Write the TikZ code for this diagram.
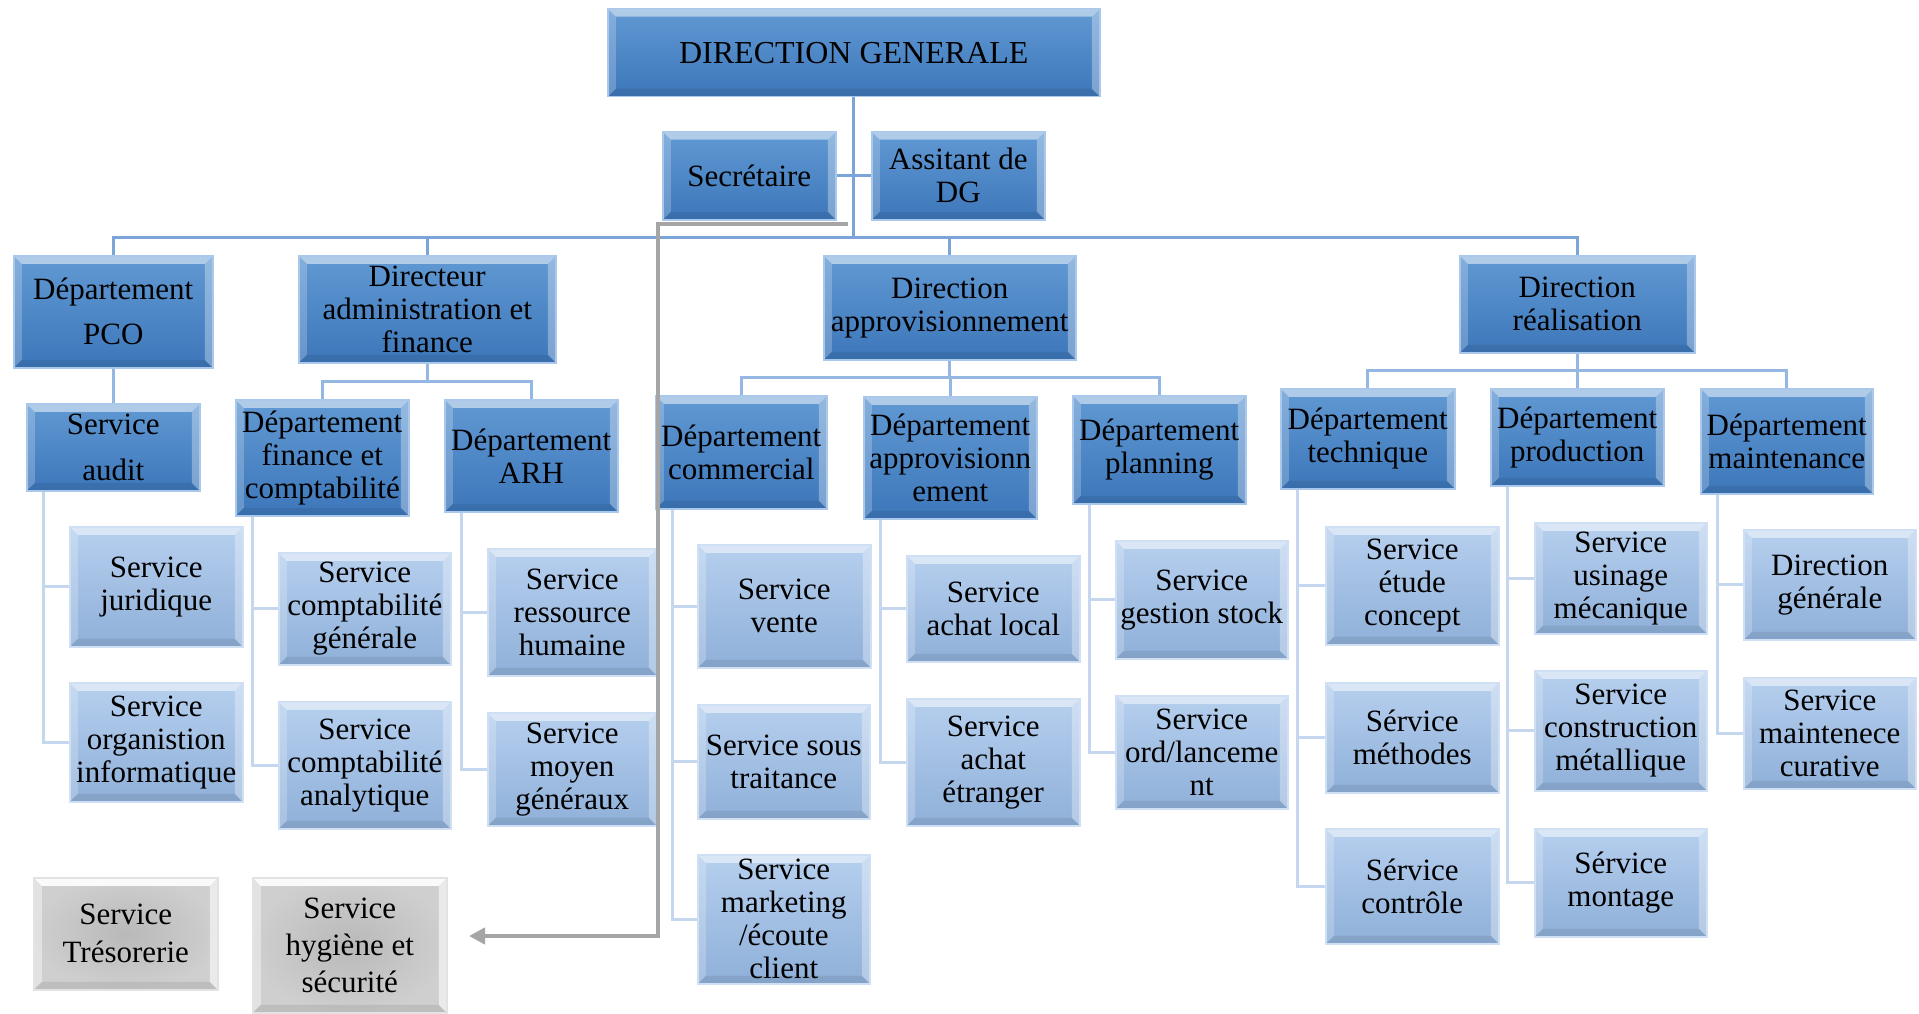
\documentclass[tikz,border=0pt]{standalone}
\usepackage{fontspec}
\setmainfont{Liberation Serif}
\newfontfamily\tnr{Liberation Serif}
\usetikzlibrary{arrows.meta}
\pgfdeclarelayer{paper}
\pgfdeclarelayer{bg}
\pgfsetlayers{paper,bg,main}
\definecolor{darktop}{HTML}{6199D3}
\definecolor{darkbot}{HTML}{3D77BA}
\definecolor{darkedge}{HTML}{A9C8EC}
\definecolor{lighttop}{HTML}{B6CFEE}
\definecolor{lightbot}{HTML}{8FB0D9}
\definecolor{lightedge}{HTML}{D0E0F4}
\definecolor{mainblue}{HTML}{7BA5D9}
\definecolor{subblue}{HTML}{94B8E3}
\definecolor{sideblue}{HTML}{C5D7EF}
\definecolor{greyline}{HTML}{A5A5A5}
\newcommand{\bvw}{8pt}
\newcommand{\obox}[7]{%
  \node[#1, minimum width={#5-#3}, minimum height={#6-#4}, anchor=north west] (#2) at (#3,#4) {#7};}
\tikzset{
  bevel/.style={path picture={
    \coordinate (bnw) at (path picture bounding box.north west);
    \coordinate (bne) at (path picture bounding box.north east);
    \coordinate (bse) at (path picture bounding box.south east);
    \coordinate (bsw) at (path picture bounding box.south west);
    \coordinate (inw) at ([shift={(\bvw,-\bvw)}]bnw);
    \coordinate (ine) at ([shift={(-\bvw,-\bvw)}]bne);
    \coordinate (ise) at ([shift={(-\bvw,\bvw)}]bse);
    \coordinate (isw) at ([shift={(\bvw,\bvw)}]bsw);
    \fill[white,opacity=#1*0.5] (bnw) -- (bne) -- (ine) -- (inw) -- cycle;
    \fill[white,opacity=#1*0.22] (bnw) -- (inw) -- (isw) -- (bsw) -- cycle;
    \fill[white,opacity=#1*0.32] (bne) -- (bse) -- (ise) -- (ine) -- cycle;
    \fill[black,opacity=0.08] (bsw) -- (isw) -- (ise) -- (bse) -- cycle;
  }},
  boxtext/.style={align=center, inner sep=0pt, font=\tnr\fontsize{31}{33}\selectfont, text=black},
  darkbox/.style={boxtext, top color=darktop, bottom color=darkbot, draw=darkedge, line width=1.5pt, bevel=1},
  lightbox/.style={boxtext, top color=lighttop, bottom color=lightbot, draw=lightedge, line width=1.5pt, bevel=1},
  greybox/.style={boxtext, inner color=gray!55, outer color=gray!38, draw=gray!22, line width=1.5pt, bevel=1.8},
  mainline/.style={draw=mainblue, line width=3pt},
  subline/.style={draw=subblue, line width=3pt},
  sideline/.style={draw=sideblue, line width=3pt},
  greyarrow/.style={draw=greyline, line width=4pt, -{Triangle[length=16pt,width=16pt]}},
}
\begin{document}
\begin{tikzpicture}[x=1pt,y=-1pt]
\begin{pgfonlayer}{paper}
\fill[white] (0,0) rectangle (1919,1014);
\end{pgfonlayer}
\useasboundingbox (0,0) rectangle (1919,1014);

% ---- top level
\obox{darkbox,font=\tnr\fontsize{32}{34}\selectfont}{dg}{607}{8}{1099}{96}{DIRECTION GENERALE}
\obox{darkbox}{sec}{662}{131}{835}{219}{Secrétaire}
\obox{darkbox}{ass}{871}{131}{1044}{219}{Assitant de\\DG}
\obox{darkbox,font=\tnr\fontsize{31}{45}\selectfont}{pco}{13}{255}{212}{367}{Département\\PCO}
\obox{darkbox}{daf}{298}{255}{555}{362}{Directeur\\administration et\\finance}
\obox{darkbox}{dapp}{823}{255}{1075}{359}{Direction\\approvisionnement}
\obox{darkbox}{dreal}{1459}{255}{1694}{352}{Direction\\réalisation}

% ---- departments
\obox{darkbox,font=\tnr\fontsize{31}{46}\selectfont}{audit}{26}{403}{199}{490}{Service\\audit}
\obox{darkbox}{dfin}{235}{399}{408}{515}{Département\\finance et\\comptabilité}
\obox{darkbox}{darh}{444}{399}{617}{511}{Département\\ARH}
\obox{darkbox}{dcom}{655}{395}{826}{508}{Département\\commercial}
\obox{darkbox}{dappro}{863}{396}{1036}{518}{Département\\approvisionn\\ement}
\obox{darkbox}{dplan}{1072}{395}{1245}{503}{Département\\planning}
\obox{darkbox}{dtech}{1280}{388}{1454}{488}{Département\\technique}
\obox{darkbox}{dprod}{1490}{388}{1663}{485}{Département\\production}
\obox{darkbox}{dmaint}{1700}{388}{1872}{493}{Département\\maintenance}

% ---- services
\obox{lightbox}{jur}{69}{526}{242}{646}{Service\\juridique}
\obox{lightbox}{org}{69}{682}{242}{801}{Service\\organistion\\informatique}
\obox{lightbox}{cgen}{278}{552}{450}{664}{Service\\comptabilité\\générale}
\obox{lightbox}{cana}{278}{701}{450}{828}{Service\\comptabilité\\analytique}
\obox{lightbox}{rh}{487}{548}{656}{675}{Service\\ressource\\humaine}
\obox{lightbox}{moy}{487}{712}{656}{825}{Service\\moyen\\généraux}
\obox{lightbox}{vente}{697}{544}{870}{667}{Service\\vente}
\obox{lightbox}{sous}{697}{704}{869}{818}{Service sous\\traitance}
\obox{lightbox}{mark}{697}{854}{869}{983}{Service\\marketing\\/écoute\\client}
\obox{lightbox}{achl}{906}{555}{1079}{661}{Service\\achat local}
\obox{lightbox}{ache}{906}{698}{1079}{825}{Service\\achat\\étranger}
\obox{lightbox}{gst}{1115}{540}{1287}{658}{Service\\gestion stock}
\obox{lightbox}{ord}{1115}{695}{1287}{808}{Service\\ord/lanceme\\nt}
\obox{lightbox}{etu}{1325}{526}{1498}{644}{Service\\étude\\concept}
\obox{lightbox}{meth}{1325}{682}{1498}{792}{Sérvice\\méthodes}
\obox{lightbox}{ctrl}{1325}{828}{1498}{943}{Sérvice\\contrôle}
\obox{lightbox}{usi}{1534}{522}{1706}{633}{Service\\usinage\\mécanique}
\obox{lightbox}{cons}{1534}{670}{1706}{790}{Service\\construction\\métallique}
\obox{lightbox}{mont}{1534}{828}{1706}{936}{Sérvice\\montage}
\obox{lightbox}{dgen}{1743}{529}{1915}{639}{Direction\\générale}
\obox{lightbox}{cur}{1743}{677}{1915}{788}{Service\\maintenece\\curative}

% ---- grey boxes
\obox{greybox,font=\tnr\fontsize{31}{38}\selectfont}{tres}{33}{877}{217}{989}{Service\\Trésorerie}
\obox{greybox,font=\tnr\fontsize{31}{37}\selectfont}{hyg}{252}{877}{446}{1012}{Service\\hygiène et\\sécurité}

% ---- connectors (behind boxes)
\coordinate (bus1) at (0,237);
\coordinate (bus2) at (0,381);
\coordinate (bus3) at (0,377);
\coordinate (bus4) at (0,370);
\begin{pgfonlayer}{bg}
  \draw[mainline] (dg.south) -- (dg.south |- bus1);
  \draw[mainline] (sec.east) -- (ass.west);
  \draw[mainline] (pco.north) |- (dreal.north |- bus1) -- (dreal.north);
  \draw[mainline] (daf.north) -- (daf.north |- bus1);
  \draw[mainline] (dapp.north) -- (dapp.north |- bus1);
  \draw[subline] (pco.south) -- (audit.north);
  \draw[subline] (daf.south) -- (daf.south |- bus2);
  \draw[subline] (dfin.north) |- (darh.north |- bus2) -- (darh.north);
  \draw[subline] (dapp.south) -- (dapp.south |- bus3);
  \draw[subline] (dcom.north) |- (dplan.north |- bus3) -- (dplan.north);
  \draw[subline] (dappro.north) -- (dappro.north |- bus3);
  \draw[subline] (dreal.south) -- (dreal.south |- bus4);
  \draw[subline] (dtech.north) |- (dmaint.north |- bus4) -- (dmaint.north);
  \draw[subline] (dprod.north) -- (dprod.north |- bus4);
  % side lines
  \foreach \p/\c in {audit/jur, audit/org, dfin/cgen, dfin/cana, darh/rh, darh/moy,
                     dcom/vente, dcom/sous, dcom/mark, dappro/achl, dappro/ache,
                     dplan/gst, dplan/ord, dtech/etu, dtech/meth, dtech/ctrl,
                     dprod/usi, dprod/cons, dprod/mont, dmaint/dgen, dmaint/cur}
    \draw[sideline] ([xshift=17pt]\p.south west) |- (\c.west);
\end{pgfonlayer}

% ---- grey arrow (on top)
\coordinate (gs) at (848,224);
\coordinate (gc) at (658,936);
\coordinate (ge) at (469,936);
\draw[greyarrow] (gs) -| (gc) -- (ge);
\end{tikzpicture}
\end{document}
